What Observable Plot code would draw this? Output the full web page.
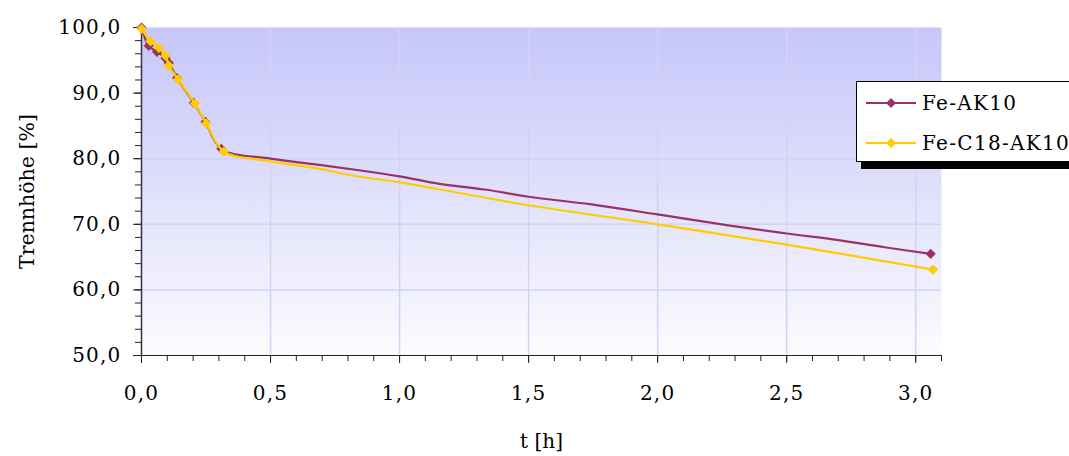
<!DOCTYPE html>
<html>
<head>
<meta charset="utf-8">
<script src="https://cdn.jsdelivr.net/npm/d3@7"></script>
<script src="https://cdn.jsdelivr.net/npm/@observablehq/plot@0.6"></script>
<style>
  body { margin: 0; background: #fff; overflow: hidden; }
  #wrap { position: relative; width: 1069px; height: 456px; overflow: hidden; font-family: "DejaVu Serif", serif; }
  #wrap svg g[aria-label$="tick label"] text { letter-spacing: 1.2px; }
  #legend { position: absolute; left: 856px; top: 81px; width: 230px; height: 79px; background: #fff;
            border: 1px solid #000; box-shadow: 5px 7px 0 #000; font-size: 20px; letter-spacing: 1.3px; }
  .row { position: absolute; left: 9px; height: 22px; display: flex; align-items: center; white-space: nowrap; }
  .row svg { margin-right: 6px; }
</style>
</head>
<body>
<div id="wrap"></div>
<script>
// Fe-AK10
const akT = [0, 0.028, 0.06, 0.093, 0.106, 0.138, 0.203, 0.248, 0.309, 0.5, 0.68, 0.85, 1.0, 1.15, 1.33, 1.5, 1.75, 2.0, 2.28, 2.5, 2.7, 2.88, 3.058];
const akY = [100, 97.2, 96.3, 95.3, 94.6, 92.3, 88.5, 85.6, 81.5, 80.0, 79.1, 78.2, 77.3, 76.2, 75.3, 74.2, 73.0, 71.5, 69.8, 68.6, 67.6, 66.5, 65.5];
const akMark = [1, 1, 1, 1, 1, 1, 1, 1, 1, 0, 0, 0, 0, 0, 0, 0, 0, 0, 0, 0, 0, 0, 1];
// Fe-C18-AK10
const c18T = [0, 0.035, 0.067, 0.093, 0.106, 0.142, 0.207, 0.251, 0.319, 0.5, 0.67, 0.823, 1.0, 1.133, 1.5, 2.0, 2.5, 3.067];
const c18Y = [99.8, 97.9, 96.9, 95.7, 94.2, 92.1, 88.4, 85.4, 81.1, 79.6, 78.6, 77.4, 76.4, 75.5, 72.9, 70.0, 66.9, 63.1];
const c18Mark = [1, 1, 1, 1, 1, 1, 1, 1, 1, 0, 0, 0, 0, 0, 0, 0, 0, 1];

const seriesNames = ["Fe-AK10", "Fe-C18-AK10"];
const seriesColors = ["#993366", "#ffcc00"];
const xMajor = [0, 0.5, 1.0, 1.5, 2.0, 2.5, 3.0];
const xMinor = d3.range(0, 32).map(i => i / 10);
const yMajor = [50, 60, 70, 80, 90, 100];
const yMinor = d3.range(50, 101, 2);
const xLabel = "t [h]";
const yLabel = "Trennhöhe [%]";

const ak = akT.map((t, i) => ({t, v: akY[i], m: akMark[i]}));
const c18 = c18T.map((t, i) => ({t, v: c18Y[i], m: c18Mark[i]}));
const fmt = d => d.toFixed(1).replace(".", ",");

const svg = Plot.plot({
  width: 1069, height: 456,
  marginLeft: 141, marginRight: 128, marginTop: 27, marginBottom: 101,
  style: {fontFamily: "DejaVu Serif", fontSize: "20px", color: "#000", background: "transparent", overflow: "visible"},
  x: {domain: [0, 3.1]},
  y: {domain: [50, 100]},
  marks: [
    Plot.frame({fill: "url(#bgGrad)", stroke: "none"}),
    Plot.gridX(xMajor.filter(d => d > 0), {stroke: "#d2d2f7", strokeOpacity: 1, strokeWidth: 1.5}),
    Plot.gridY(yMajor.filter(d => d > 50 && d < 100), {stroke: "#d2d2f7", strokeOpacity: 1, strokeWidth: 1.5}),
    Plot.axisX(xMinor, {tickSize: 6, tickFormat: () => "", label: null, stroke: "#222"}),
    Plot.axisX(xMajor, {tickSize: 8, tickPadding: 22, tickFormat: fmt, label: null, stroke: "#222"}),
    Plot.axisY(yMinor, {tickSize: 6, tickFormat: () => "", label: null, stroke: "#222"}),
    Plot.axisY(yMajor, {tickSize: 8, tickPadding: 12, tickFormat: fmt, label: null, stroke: "#222"}),
    Plot.ruleY([50], {stroke: "#222", strokeWidth: 1.2}),
    Plot.ruleX([0], {stroke: "#334", strokeWidth: 1.5}),
    Plot.line(ak, {x: "t", y: "v", stroke: seriesColors[0], strokeWidth: 2.2, curve: "catmull-rom"}),
    Plot.dot(ak.filter(d => d.m), {x: "t", y: "v", symbol: "diamond2", r: 4.6, fill: seriesColors[0], stroke: "none"}),
    Plot.line(c18, {x: "t", y: "v", stroke: seriesColors[1], strokeWidth: 2.2, curve: "catmull-rom"}),
    Plot.dot(c18.filter(d => d.m), {x: "t", y: "v", symbol: "diamond2", r: 4.6, fill: seriesColors[1], stroke: "none"}),
    Plot.text([xLabel], {text: d => d, frameAnchor: "bottom", dy: 86, textAnchor: "middle", lineAnchor: "middle", fontSize: 20}),
    Plot.text([yLabel], {text: d => d, frameAnchor: "left", dx: -114, rotate: -90, textAnchor: "middle", lineAnchor: "middle", fontSize: 20.5})
  ]
});

d3.select(svg).insert("defs", ":first-child").html(
  '<linearGradient id="bgGrad" x1="0" y1="0" x2="0" y2="1">' +
  '<stop offset="0" stop-color="#c6c6fa"/><stop offset="0.5" stop-color="#e0e0fb"/><stop offset="1" stop-color="#fcfcff"/>' +
  '</linearGradient>');

const wrap = document.getElementById("wrap");
wrap.appendChild(svg);

// legend
const legend = document.createElement("div");
legend.id = "legend";
seriesNames.forEach((name, i) => {
  const row = document.createElement("div");
  row.className = "row";
  row.style.top = (i === 0 ? 10 : 50) + "px";
  row.innerHTML = `<svg width="50" height="14"><line x1="0" x2="50" y1="7" y2="7" stroke="${seriesColors[i]}" stroke-width="2.2"/>` +
    `<path d="M25,2 L30,7 L25,12 L20,7 Z" fill="${seriesColors[i]}"/></svg><span>${name}</span>`;
  legend.appendChild(row);
});
wrap.appendChild(legend);
</script>
</body>
</html>
